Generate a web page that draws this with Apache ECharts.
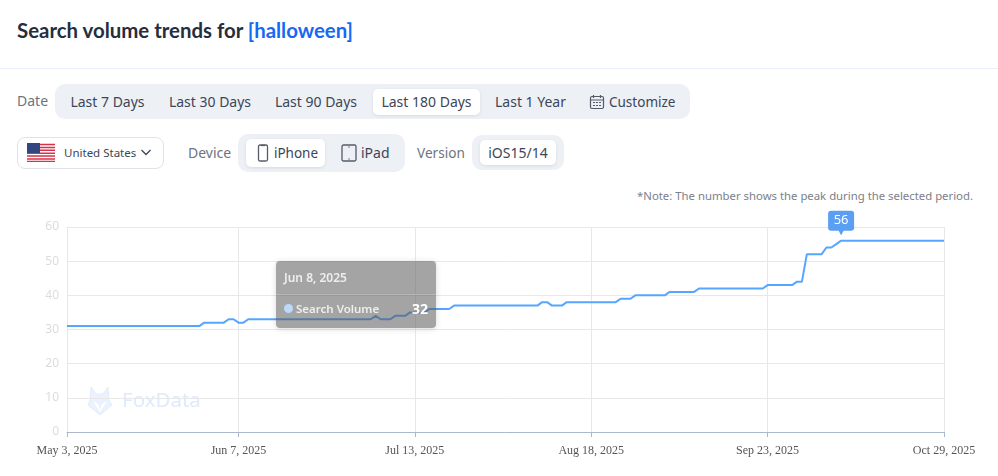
<!DOCTYPE html>
<html>
<head>
<meta charset="utf-8">
<style>
html, body { margin: 0; padding: 0; background: #fff; }
body { width: 998px; height: 476px; position: relative; overflow: hidden; font-family: "Noto Sans", sans-serif; color: #3c4657; }
.abs { position: absolute; white-space: nowrap; }
#title { left: 17px; top: 15px; font-size: 20.4px; font-weight: 700; font-family: Lato, sans-serif; color: #262e3d; line-height: 30px; }
#title span { color: #1668f5; }
#rule { left: 0; top: 68px; width: 998px; height: 1px; background: #e8eefa; }
.lab { font-size: 14px; color: #6c7480; line-height: 20px; }
.pill { background: #edf0f5; border-radius: 10px; }
.btn { font-size: 14px; line-height: 26px; text-align: center; color: #3c4657; }
.on { background: #fff; border-radius: 5px; box-shadow: 0 1px 3px rgba(60,70,90,.12); }
#country { left: 17px; top: 137px; width: 145px; height: 30px; border: 1px solid #dfe2e7; border-radius: 8px; }
#note { right: 25px; top: 187px; font-size: 11.35px; color: #7b818b; line-height: 18px; }
#chart { left: 0; top: 0; width: 998px; height: 476px; }
</style>
</head>
<body>
<div id="title" class="abs">Search volume trends for <span>[halloween]</span></div>
<div id="rule" class="abs"></div>

<div class="abs lab" style="left:17px;top:91px">Date</div>
<div class="abs pill" style="left:55px;top:84px;width:635px;height:35px"></div>
<div class="abs btn" style="left:60px;top:89px;width:95px">Last 7 Days</div>
<div class="abs btn" style="left:158px;top:89px;width:104px">Last 30 Days</div>
<div class="abs btn" style="left:264px;top:89px;width:104px">Last 90 Days</div>
<div class="abs btn on" style="left:373px;top:89px;width:107px">Last 180 Days</div>
<div class="abs btn" style="left:486px;top:89px;width:89px">Last 1 Year</div>
<svg class="abs" style="left:589px;top:94px" width="16" height="16" viewBox="0 0 16 16" fill="none" stroke="#555c68" stroke-width="1.2"><rect x="1.5" y="2.5" width="13" height="12" rx="1.5"/><path d="M1.5 6h13M4.5 1v3M11.5 1v3M4 8.500h2M7 8.500h2M10 8.500h2M4 11.500h2M7 11.500h2M10 11.500h2"/></svg>
<div class="abs btn" style="left:609px;top:89px;font-size:13.5px">Customize</div>

<div id="country" class="abs"></div>
<svg class="abs" style="left:27px;top:143px" width="28" height="19" viewBox="0 0 28 19">
  <rect width="28" height="19" fill="#fff"/>
  <path d="M0 1.500h28M0 4.400h28M0 7.300h28M0 10.200h28M0 13.100h28M0 16h28M0 18.500h28" stroke="#d8324a" stroke-width="1.500"/>
  <rect width="13" height="10" fill="#34467f"/>
</svg>
<div class="abs" style="left:64px;top:144px;font-size:11.5px;line-height:18px;color:#3c4657">United States</div>
<svg class="abs" style="left:140px;top:148px" width="12" height="9" viewBox="0 0 12 9" fill="none" stroke="#3c4657" stroke-width="1.3"><path d="M1.500 2l4.500 4.500L10.500 2"/></svg>

<div class="abs lab" style="left:188px;top:143px">Device</div>
<div class="abs pill" style="left:238px;top:134px;width:167px;height:38px"></div>
<div class="abs btn on" style="left:246px;top:139px;width:79px;height:28px;line-height:28px;text-indent:21px;font-size:13.5px">iPhone</div>
<svg class="abs" style="left:257px;top:144px" width="12" height="18" viewBox="0 0 12 18" fill="none" stroke="#555c68" stroke-width="1.3"><rect x="1.500" y="1" width="9" height="16" rx="1.500"/><path d="M4 1.500h4"/></svg>
<svg class="abs" style="left:341px;top:144px" width="16" height="18" viewBox="0 0 16 18" fill="none" stroke="#555c68" stroke-width="1.3"><rect x="1" y="1" width="14" height="16" rx="1.500"/><path d="M7.500 3h1M7.500 15h1"/></svg>
<div class="abs btn" style="left:361px;top:139px;line-height:28px">iPad</div>
<div class="abs lab" style="left:417px;top:143px;font-size:13.6px">Version</div>
<div class="abs pill" style="left:472px;top:135px;width:92px;height:35px"></div>
<div class="abs btn on" style="left:480px;top:140px;width:76px;height:25px;line-height:25px">iOS15/14</div>
<div id="note" class="abs">*Note: The number shows the peak during the selected period.</div>

<div id="chart" class="abs"></div>

<script src="https://cdn.jsdelivr.net/npm/echarts@6/dist/echarts.min.js"></script>
<script>
var tickLabels = ['May 3, 2025', 'Jun 7, 2025', 'Jul 13, 2025', 'Aug 18, 2025', 'Sep 23, 2025', 'Oct 29, 2025'];
var yTicks = [0, 10, 20, 30, 40, 50, 60];
var seriesName = 'Search Volume';
var shownDay = 'Jun 8, 2025';

// one value per day, May 3 to Oct 29
var searchVolume = [
    31, 31, 31, 31, 31, 31, 31, 31, 31, 31, 31, 31, 31, 31, 31, 31, 31, 31, 31, 31,
    31, 31, 31, 31, 31, 31, 31, 31, 32, 32, 32, 32, 32, 33, 33, 32, 32, 33, 33, 33,
    33, 33, 33, 33, 33, 33, 33, 33, 33, 33, 33, 33, 33, 33, 33, 33, 33, 33, 33, 33,
    33, 33, 33, 34, 33, 33, 33, 34, 34, 34, 35, 35, 35, 35, 36, 36, 36, 36, 36, 37,
    37, 37, 37, 37, 37, 37, 37, 37, 37, 37, 37, 37, 37, 37, 37, 37, 37, 38, 38, 37,
    37, 37, 38, 38, 38, 38, 38, 38, 38, 38, 38, 38, 38, 39, 39, 39, 40, 40, 40, 40,
    40, 40, 40, 41, 41, 41, 41, 41, 41, 42, 42, 42, 42, 42, 42, 42, 42, 42, 42, 42,
    42, 42, 42, 43, 43, 43, 43, 43, 43, 44, 44, 52, 52, 52, 52, 54, 54, 55, 56, 56,
    56, 56, 56, 56, 56, 56, 56, 56, 56, 56, 56, 56, 56, 56, 56, 56, 56, 56, 56, 56
];

var months = ['Jan', 'Feb', 'Mar', 'Apr', 'May', 'Jun', 'Jul', 'Aug', 'Sep', 'Oct', 'Nov', 'Dec'];
var days = [];
for (var i = 0; i < searchVolume.length; i++) {
    var d = new Date(Date.UTC(2025, 4, 3 + i));
    days.push(months[d.getUTCMonth()] + ' ' + d.getUTCDate() + ', ' + d.getUTCFullYear());
}

function isTick(index, value) {
    return tickLabels.indexOf(days[index]) >= 0;
}

var chart = echarts.init(document.getElementById('chart'));
chart.setOption({
    animation: false,
    grid: { left: 67, right: 54, top: 227, bottom: 44 },
    xAxis: {
        type: 'category',
        boundaryGap: false,
        data: days,
        axisLine: { lineStyle: { color: '#a9b8cb' } },
        axisTick: { interval: isTick, length: 5, lineStyle: { color: '#a9b8cb' } },
        splitLine: { show: true, interval: isTick, lineStyle: { color: '#e8e8e8' } },
        axisLabel: {
            interval: isTick,
            hideOverlap: false,
            margin: 13,
            fontFamily: 'Liberation Serif',
            fontSize: 12,
            color: '#555'
        }
    },
    yAxis: {
        type: 'value',
        min: yTicks[0],
        max: yTicks[yTicks.length - 1],
        interval: 10,
        axisLine: { show: true, lineStyle: { color: '#e8e8e8' } },
        splitLine: { lineStyle: { color: '#e8e8e8' } },
        axisLabel: { margin: 8, fontFamily: 'Noto Sans', fontSize: 12, color: '#dcdcdc' }
    },
    tooltip: {
        trigger: 'axis',
        alwaysShowContent: true,
        transitionDuration: 0,
        axisPointer: { type: 'none' },
        position: [276, 261],
        padding: 0,
        borderWidth: 0,
        backgroundColor: 'rgba(90,90,90,0.55)',
        extraCssText: 'border-radius:4px;box-shadow:0 1px 6px rgba(0,0,0,.15);width:160px;height:67px;',
        formatter: function (params) {
            var p = params[0];
            return '<div style="font:600 12px \'Noto Sans\';color:#eee;line-height:33px;padding:0 8px;border-bottom:1px solid rgba(255,255,255,.2)">' + p.axisValue + '</div>' +
                '<div style="font:600 11.5px \'Noto Sans\';color:#eee;line-height:28px;padding:0 8px">' +
                '<span style="display:inline-block;width:9px;height:9px;border-radius:50%;background:#bcd8fb;margin-right:3px"></span>' +
                p.seriesName + '<span style="float:right;font-size:14px;font-weight:700;color:#fff">' + p.value + '</span></div>';
        }
    },
    graphic: [
        {
            type: 'text',
            left: 122,
            top: 391,
            z: 0,
            style: { text: 'FoxData', fontFamily: 'Noto Sans', fontSize: 20.5, fill: '#dfeafd' }
        },
        {
            // fox head of the watermark
            type: 'polygon',
            x: 87,
            y: 387,
            z: 0,
            shape: { points: [[4, 0], [9, 7], [16, 7], [21, 0], [22, 13], [25, 18], [13, 28], [1, 18], [3, 13]] },
            style: { fill: '#ebf2fe', stroke: '#e2ecfd', lineWidth: 1 }
        },
        {
            type: 'polygon',
            x: 87,
            y: 387,
            z: 0,
            shape: { points: [[6, 14], [11, 17], [13, 23], [15, 17], [20, 14], [17, 19], [13, 25], [9, 19]] },
            style: { fill: '#fff' }
        }
    ],
    series: [{
        name: seriesName,
        type: 'line',
        data: searchVolume,
        symbol: 'none',
        smooth: false,
        lineStyle: { color: '#4f97f0', width: 2 },
        itemStyle: { color: '#4f97f0' },
        markPoint: {
            data: [{ type: 'max' }],
            // rounded box with a small pointer underneath
            symbol: 'path://M3 0H23A3 3 0 0 1 26 3V17A3 3 0 0 1 23 20H15.500L13 24.500L10.500 20H3A3 3 0 0 1 0 17V3A3 3 0 0 1 3 0Z',
            symbolSize: [26, 24.5],
            symbolOffset: [0, -17.75],
            itemStyle: { color: '#5a9ff2' },
            label: { position: 'inside', offset: [0, -3], fontFamily: 'Noto Sans', fontSize: 13, color: '#fff' }
        }
    }]
});
chart.dispatchAction({ type: 'showTip', seriesIndex: 0, dataIndex: days.indexOf(shownDay) });
</script>
</body>
</html>
